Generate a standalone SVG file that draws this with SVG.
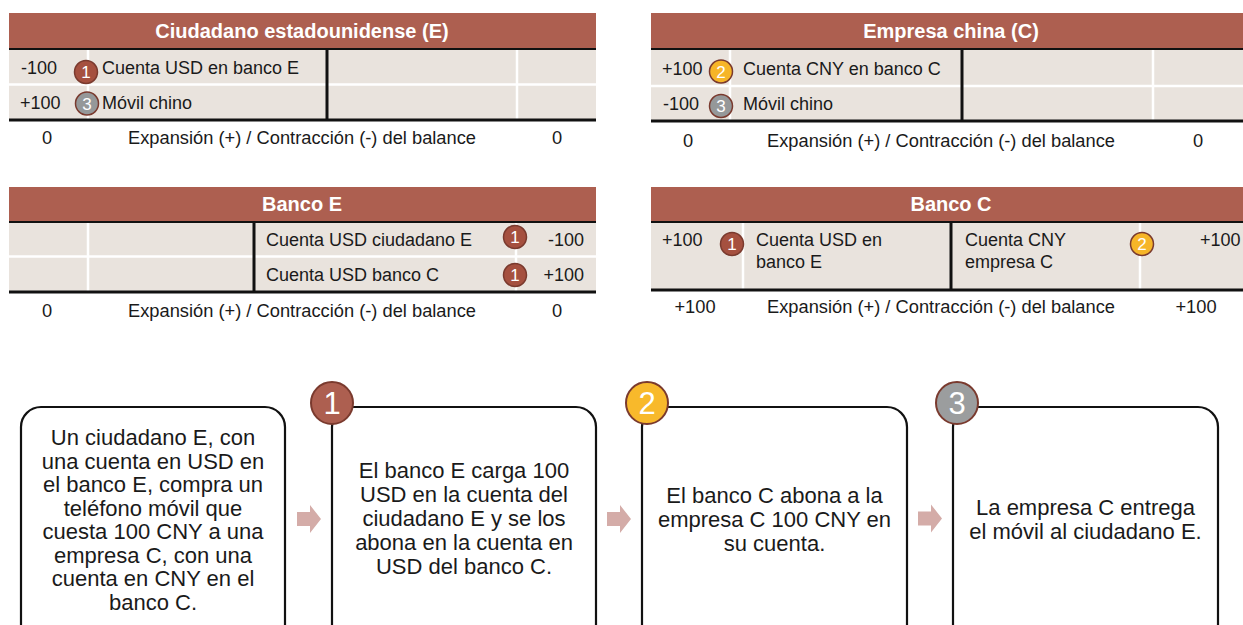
<svg xmlns="http://www.w3.org/2000/svg" width="1243" height="625" viewBox="0 0 1243 625">
<style>
text{font-family:"Liberation Sans",Arial,Helvetica,sans-serif;fill:#1a1a1a}
.hd{fill:#ad5f50}
.hdt{font-size:20px;font-weight:bold;fill:#ffffff;text-anchor:middle}
.row{fill:#e9e3dd}
.wl{stroke:#ffffff;stroke-width:2.5}
.bl{stroke:#111111;stroke-width:3}
.bl2{stroke:#111111;stroke-width:2}
.t{font-size:18px}
.f{font-size:18.3px}
.c{text-anchor:middle}
.e{text-anchor:end}
.bx{fill:#ffffff;stroke:#111111;stroke-width:2.2}
.bt{font-size:22px;text-anchor:middle}
.b1{fill:#a5503f;stroke:#7a3a2e;stroke-width:1.5}
.b2{fill:#f6b528;stroke:#7a3a2e;stroke-width:1.5}
.b3{fill:#959899;stroke:#7a3a2e;stroke-width:1.5}
.bn{font-size:17px;fill:#ffffff;text-anchor:middle}
.big1{fill:#ad5f50;stroke:#7a3a2e;stroke-width:2}
.big2{fill:#f8b92b;stroke:#7a3a2e;stroke-width:2}
.big3{fill:#9b9d9e;stroke:#7a3a2e;stroke-width:2}
.bgn{font-size:31px;fill:#ffffff;text-anchor:middle}
.arr{fill:#d4aca8}
</style>
<defs>
<path id="arrow" d="M0,-7 H13 V-14 L24,0 L13,14 V7 H0 Z"/>
</defs>

<g id="tabla-ciudadano">
<rect class="hd" x="9" y="13" width="587" height="35"/>
<text class="hdt" x="302" y="38">Ciudadano estadounidense (E)</text>
<rect class="row" x="9" y="49" width="587" height="70"/>
<line class="wl" x1="9" y1="84.5" x2="596" y2="84.5"/>
<line class="wl" x1="88" y1="49" x2="88" y2="119"/>
<line class="wl" x1="517" y1="49" x2="517" y2="119"/>
<line class="bl" x1="327" y1="49" x2="327" y2="119"/>
<line class="bl2" x1="9" y1="49" x2="596" y2="49"/>
<line class="bl" x1="9" y1="120" x2="596" y2="120"/>
<text class="t" x="21" y="74">-100</text>
<circle class="b1" cx="86" cy="72" r="11.5"/><text class="bn" x="86" y="78">1</text>
<text class="t" x="102" y="74">Cuenta USD en banco E</text>
<text class="t" x="20" y="109">+100</text>
<circle class="b3" cx="87" cy="103.5" r="11.5"/><text class="bn" x="87" y="109.5">3</text>
<text class="t" x="102" y="109">Móvil chino</text>
<text class="f c" x="47" y="144">0</text>
<text class="f c" x="302" y="144">Expansión (+) / Contracción (-) del balance</text>
<text class="f c" x="557" y="144">0</text>
</g>

<g id="tabla-empresa">
<rect class="hd" x="651" y="13" width="592" height="35"/>
<text class="hdt" x="951" y="38">Empresa china (C)</text>
<rect class="row" x="651" y="49" width="592" height="71"/>
<line class="wl" x1="651" y1="86" x2="1243" y2="86"/>
<line class="wl" x1="730" y1="49" x2="730" y2="120"/>
<line class="wl" x1="1153" y1="49" x2="1153" y2="120"/>
<line class="bl" x1="962" y1="49" x2="962" y2="120"/>
<line class="bl2" x1="651" y1="49" x2="1243" y2="49"/>
<line class="bl" x1="651" y1="121" x2="1243" y2="121"/>
<text class="t" x="662" y="75">+100</text>
<circle class="b2" cx="721" cy="71.5" r="11.5"/><text class="bn" x="721" y="77.5">2</text>
<text class="t" x="743" y="75">Cuenta CNY en banco C</text>
<text class="t" x="663" y="110">-100</text>
<circle class="b3" cx="721" cy="106" r="11.5"/><text class="bn" x="721" y="112">3</text>
<text class="t" x="743" y="110">Móvil chino</text>
<text class="f c" x="688" y="147">0</text>
<text class="f c" x="941" y="147">Expansión (+) / Contracción (-) del balance</text>
<text class="f c" x="1198" y="147">0</text>
</g>

<g id="tabla-banco-e">
<rect class="hd" x="9" y="187" width="587" height="34"/>
<text class="hdt" x="302" y="211">Banco E</text>
<rect class="row" x="9" y="222" width="587" height="69"/>
<line class="wl" x1="9" y1="256.5" x2="596" y2="256.5"/>
<line class="wl" x1="88" y1="222" x2="88" y2="291"/>
<line class="wl" x1="516" y1="222" x2="516" y2="291"/>
<line class="bl" x1="254" y1="222" x2="254" y2="291"/>
<line class="bl2" x1="9" y1="222" x2="596" y2="222"/>
<line class="bl" x1="9" y1="292" x2="596" y2="292"/>
<text class="t" x="266" y="246">Cuenta USD ciudadano E</text>
<circle class="b1" cx="515" cy="237" r="11.5"/><text class="bn" x="515" y="243">1</text>
<text class="t e" x="584" y="246">-100</text>
<text class="t" x="266" y="281">Cuenta USD banco C</text>
<circle class="b1" cx="515" cy="275" r="11.5"/><text class="bn" x="515" y="281">1</text>
<text class="t e" x="584" y="281">+100</text>
<text class="f c" x="47" y="317">0</text>
<text class="f c" x="302" y="317">Expansión (+) / Contracción (-) del balance</text>
<text class="f c" x="557" y="317">0</text>
</g>

<g id="tabla-banco-c">
<rect class="hd" x="651" y="187" width="592" height="34"/>
<text class="hdt" x="951" y="211">Banco C</text>
<rect class="row" x="651" y="222" width="592" height="67"/>
<line class="wl" x1="743" y1="222" x2="743" y2="289"/>
<line class="wl" x1="1140" y1="222" x2="1140" y2="289"/>
<line class="bl" x1="951" y1="222" x2="951" y2="289"/>
<line class="bl2" x1="651" y1="222" x2="1243" y2="222"/>
<line class="bl" x1="651" y1="290" x2="1243" y2="290"/>
<text class="t" x="662" y="246">+100</text>
<circle class="b1" cx="732" cy="244" r="11.5"/><text class="bn" x="732" y="250">1</text>
<text class="t" x="756" y="246">Cuenta USD en</text>
<text class="t" x="756" y="268">banco E</text>
<text class="t" x="965" y="246">Cuenta CNY</text>
<text class="t" x="965" y="268">empresa C</text>
<circle class="b2" cx="1142" cy="244" r="11.5"/><text class="bn" x="1142" y="250">2</text>
<text class="t" x="1200" y="246">+100</text>
<text class="f c" x="695" y="313">+100</text>
<text class="f c" x="941" y="313">Expansión (+) / Contracción (-) del balance</text>
<text class="f c" x="1196" y="313">+100</text>
</g>

<g id="paso-0">
<rect class="bx" x="21" y="407" width="264" height="240" rx="20"/>
<text class="bt" x="153" y="445">Un ciudadano E, con</text>
<text class="bt" x="153" y="468.5">una cuenta en USD en</text>
<text class="bt" x="153" y="492">el banco E, compra un</text>
<text class="bt" x="153" y="515.5">teléfono móvil que</text>
<text class="bt" x="153" y="539">cuesta 100 CNY a una</text>
<text class="bt" x="153" y="562.5">empresa C, con una</text>
<text class="bt" x="153" y="586">cuenta en CNY en el</text>
<text class="bt" x="153" y="609.5">banco C.</text>
</g>

<g id="paso-1">
<rect class="bx" x="332" y="407" width="264" height="240" rx="20"/>
<circle class="big1" cx="332" cy="403" r="21"/>
<text class="bgn" x="332" y="414">1</text>
<text class="bt" x="464" y="478">El banco E carga 100</text>
<text class="bt" x="464" y="502">USD en la cuenta del</text>
<text class="bt" x="464" y="526">ciudadano E y se los</text>
<text class="bt" x="464" y="550">abona en la cuenta en</text>
<text class="bt" x="464" y="574">USD del banco C.</text>
</g>

<g id="paso-2">
<rect class="bx" x="642" y="407" width="265" height="240" rx="20"/>
<circle class="big2" cx="647" cy="403" r="21"/>
<text class="bgn" x="647" y="414">2</text>
<text class="bt" x="774.5" y="503">El banco C abona a la</text>
<text class="bt" x="774.5" y="527">empresa C 100 CNY en</text>
<text class="bt" x="774.5" y="551">su cuenta.</text>
</g>

<g id="paso-3">
<rect class="bx" x="953" y="407" width="265" height="240" rx="20"/>
<circle class="big3" cx="957" cy="403" r="21"/>
<text class="bgn" x="957" y="414">3</text>
<text class="bt" x="1085.5" y="515">La empresa C entrega</text>
<text class="bt" x="1085.5" y="539">el móvil al ciudadano E.</text>
</g>

<g id="conectores">
<use class="arr" href="#arrow" x="297" y="519"/>
<use class="arr" href="#arrow" x="607" y="519"/>
<use class="arr" href="#arrow" x="918" y="518.5"/>
</g>
</svg>
